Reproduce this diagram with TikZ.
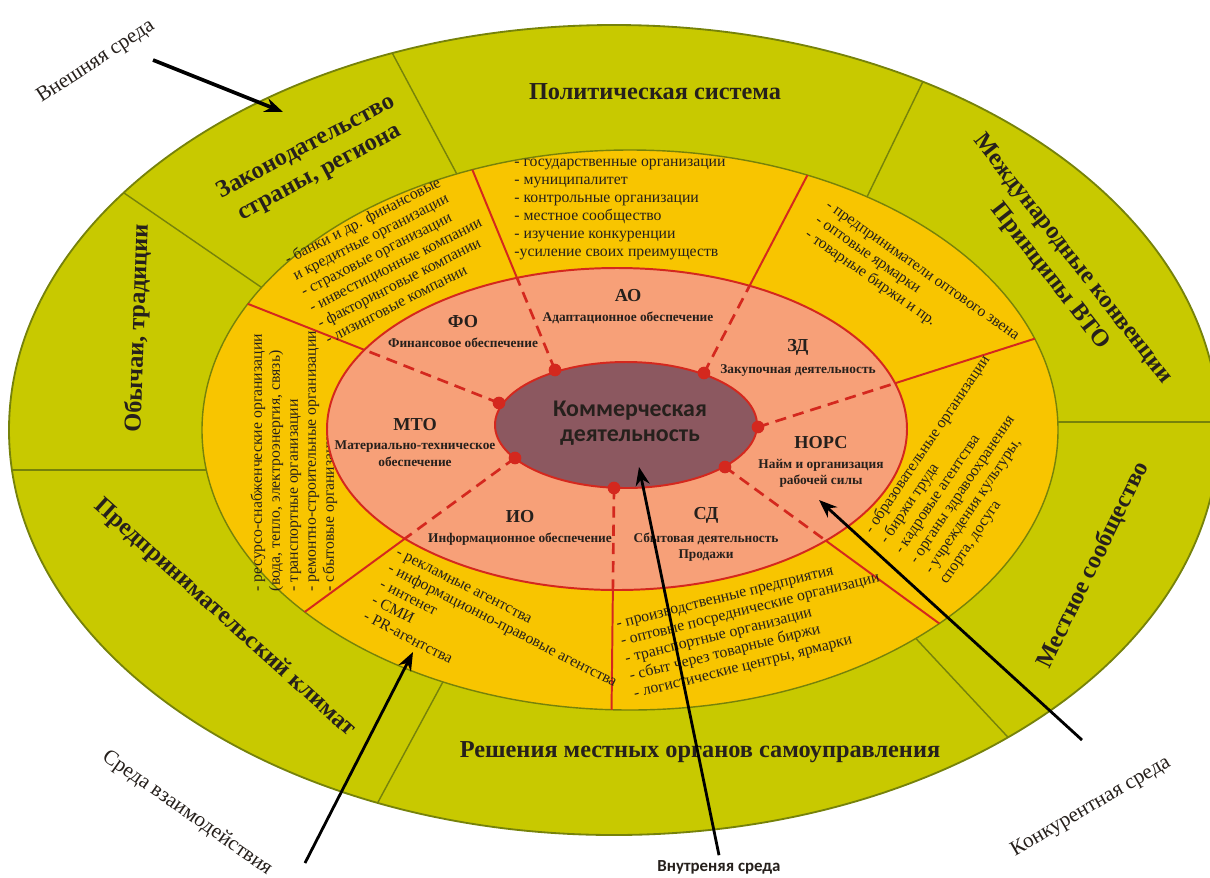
\documentclass[tikz,border=0pt]{standalone}
\usepackage{fontspec}
\setmainfont{Liberation Serif}
\newfontfamily\corefont{Carlito}
\usetikzlibrary{positioning,arrows.meta}

\definecolor{greenring}{RGB}{200,201,0}
\definecolor{greenline}{RGB}{118,130,10}
\definecolor{orangering}{RGB}{248,197,0}
\definecolor{salmonring}{RGB}{247,160,120}
\definecolor{coremauve}{RGB}{140,88,96}
\definecolor{redline}{RGB}{212,40,30}
\definecolor{inktext}{RGB}{38,32,28}

\begin{document}
\begin{tikzpicture}[
  x=0.025cm, y=-0.025cm,
  ringlabel/.style={font=\fontsize{17.3}{20.5}\selectfont\bfseries, text=inktext, align=center},
  orglist/.style={font=\fontsize{11.2}{12.8}\selectfont, text=inktext, align=left, inner sep=0pt},
  sectorname/.style={font=\fontsize{13}{15}\selectfont\bfseries, text=inktext},
  sectorsub/.style={font=\fontsize{9.5}{11.5}\selectfont\bfseries, text=inktext, align=center},
  envlabel/.style={font=\fontsize{15}{18}\selectfont, text=inktext},
  pointer/.style={-{Stealth[length=13pt,width=10pt]}, line width=2pt, black},
  sepgreen/.style={greenline, line width=1pt},
  sepred/.style={redline, line width=1.4pt},
  sepdash/.style={redline, line width=1.9pt, dash pattern=on 8pt off 5pt},
  joint/.style={circle, fill=redline, inner sep=0pt, minimum size=9pt}
  ]
  \useasboundingbox (0,0) rectangle (1210,877);
  \fill[white] (0,0) rectangle (1210,877);

  % outer ring: external environment
  \fill[greenring, draw=greenline, line width=1.3pt] (614,430) ellipse [x radius=605, y radius=405];
  \begin{scope}
    \clip (614,430) ellipse [x radius=605, y radius=405];
    \draw[sepgreen] (475,208) -- (365,2);
    \draw[sepgreen] (850,232) -- (960,5);
    \draw[sepgreen] (1000,422) -- (1260,422);
    \draw[sepgreen] (880,600) -- (1060,793);
    \draw[sepgreen] (465,641) -- (350,854);
    \draw[sepgreen] (-20,470) -- (260,470);
    \draw[sepgreen] (290,307) -- (60,149);
  \end{scope}

  \node[ringlabel] (polit) at (655,92) {Политическая система};
  \node[ringlabel, rotate=28] (zakon) at (313,160) {Законодательство\\страны, региона};
  \node[ringlabel, rotate=-52] (mezhd) at (1061,268) {Международные конвенции\\Принципы ВТО};
  \node[ringlabel, rotate=64] (mestn) at (1093,565) {Местное сообщество};
  \node[ringlabel] (resh) at (700,752) {Решения местных органов самоуправления};
  \node[ringlabel, rotate=-42] (predpr) at (225,618) {Предпринимательский климат};
  \node[ringlabel, rotate=88] (obych) at (138,328) {Обычаи, традиции};

  % middle ring: interaction environment
  \fill[orangering, draw=greenline, line width=1pt] (630,430) ellipse [x radius=428, y radius=280];

  % joints on the core
  \coordinate (jFA) at (555,370);
  \coordinate (jAZ) at (704,373);
  \coordinate (jFM) at (499,403);
  \coordinate (jZN) at (758,427);
  \coordinate (jNS) at (725,467);
  \coordinate (jSI) at (614,488);
  \coordinate (jIM) at (515,458);

  \begin{scope}
    \clip (630,430) ellipse [x radius=428, y radius=280];
    \draw[sepred] (jFA) -- (444,101);
    \draw[sepred] (jAZ) -- (842,109);
    \draw[sepred] (jFM) -- (152,266);
    \draw[sepred] (jZN) -- (1112,314);
    \draw[sepred] (jNS) -- (992,662);
    \draw[sepred] (jSI) -- (611,760);
    \draw[sepred] (jIM) -- (235,663);
  \end{scope}

  \node[orglist] (listAO) at (620,209) {- государственные организации\\- муниципалитет\\- контрольные организации\\- местное сообщество\\- изучение конкуренции\\-усиление своих преимуществ};
  \node[orglist, rotate=27] (listFO) at (391,256) {- банки и др. финансовые\\и кредитные организации\\- страховые организации\\- инвестиционные компании\\- факторинговые компании\\- лизинговые компании};
  \node[orglist, rotate=-35] (listZD) at (911,287) {- предприниматели оптового звена\\- оптовые ярмарки\\- товарные биржи и пр.};
  \node[orglist, rotate=90] (listMTO) at (294,461) {- ресурсо-снабженческие организации\\(вода, тепло, электроэнергия, связь)\\- транспортные организации\\- ремонтно-строительные организации\\- сбытовые организации};
  \node[orglist, rotate=56] (listNORC) at (965,470) {- образовательные организации\\- биржи труда\\- кадровые агентства\\- органы здравоохранения\\- учреждения культуры,\\спорта, досуга};
  \node[orglist, rotate=-27] (listIO) at (494,642) {- рекламные агентства\\- информационно-правовые агентства\\- интенет\\- СМИ\\- PR-агентства};
  \node[orglist, rotate=14] (listSD) at (755,629) {- производственные предприятия\\- оптовые посреднические организации\\- транспортные организации\\- сбыт через товарные биржи\\- логистические центры, ярмарки};

  % inner ring: provision sectors
  \fill[salmonring, draw=redline, line width=1.4pt] (617,429) ellipse [x radius=290, y radius=161];
  \begin{scope}
    \clip (617,429) ellipse [x radius=290, y radius=161];
    \draw[sepdash] (jFA) -- (444,101);
    \draw[sepdash] (jAZ) -- (842,109);
    \draw[sepdash] (jFM) -- (152,266);
    \draw[sepdash] (jZN) -- (1112,314);
    \draw[sepdash] (jNS) -- (992,662);
    \draw[sepdash] (jSI) -- (611,760);
    \draw[sepdash] (jIM) -- (235,663);
  \end{scope}

  \node[sectorname] (fo) at (463,322) {ФО};
  \node[sectorsub, below=0pt of fo] {Финансовое обеспечение};
  \node[sectorname] (ao) at (628,296) {АО};
  \node[sectorsub, below=0pt of ao] {Адаптационное обеспечение};
  \node[sectorname] (zd) at (798,347) {ЗД};
  \node[sectorsub, below=0pt of zd] {Закупочная деятельность};
  \node[sectorname] (mto) at (415,425) {МТО};
  \node[sectorsub, below=0pt of mto] {Материально-техническое\\обеспечение};
  \node[sectorname] (norc) at (821,443) {НОРС};
  \node[sectorsub, below=0pt of norc] {Найм и организация\\рабочей силы};
  \node[sectorname] (io) at (520,517) {ИО};
  \node[sectorsub, below=0pt of io] {Информационное обеспечение};
  \node[sectorname] (sd) at (706,515) {СД};
  \node[sectorsub, below=0pt of sd] {Сбытовая деятельность\\Продажи};

  % core
  \fill[coremauve, draw=redline, line width=1.4pt] (626,425) ellipse [x radius=131, y radius=63];
  \node[font=\corefont\fontsize{17}{18}\selectfont\bfseries, text=inktext, align=center] (core) at (630,423) {Коммерческая\\деятельность};
  \foreach \j in {jFA,jAZ,jFM,jZN,jNS,jSI,jIM}
    \node[joint] at (\j) {};

  % environment labels and pointers
  \node[envlabel, rotate=33] (extenv) at (96,62) {Внешняя среда};
  \node[envlabel, rotate=-35] (interenv) at (187,813) {Среда взаимодействия};
  \node[envlabel, rotate=30] (compenv) at (1091,807) {Конкурентная среда};
  \node[font=\corefont\fontsize{12}{14}\selectfont\bfseries, text=inktext] (innerenv) at (719,867) {Внутреняя среда};

  \coordinate (extTail) at (153,60);
  \coordinate (extTip) at (283,112);
  \coordinate (interTail) at (305,863);
  \coordinate (interTip) at (413,652);
  \coordinate (innerTip) at (639,467);
  \coordinate (compTail) at (1082,740);
  \coordinate (compTip) at (819,500);
  \draw[pointer, line width=2.6pt] (extTail) -- (extTip);
  \draw[pointer] (interTail) -- (interTip);
  \draw[pointer] (innerenv.north) -- (innerTip);
  \draw[pointer] (compTail) -- (compTip);
\end{tikzpicture}
\end{document}
